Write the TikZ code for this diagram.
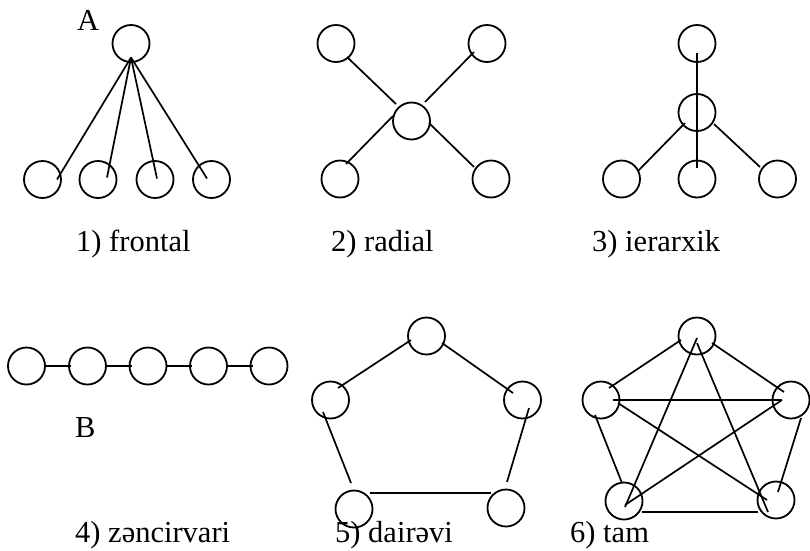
\documentclass[tikz,border=0pt]{standalone}
\usepackage{fontspec}
\setmainfont{Liberation Serif}
\usetikzlibrary{calc}
\begin{document}
\begin{tikzpicture}[x=1pt,y=-1pt,
  nd/.style={circle,draw,line width=1.8pt,minimum size=37pt,inner sep=0pt},
  ln/.style={line width=1.7pt},
  lbl/.style={font=\fontsize{30.5}{36}\selectfont,inner sep=0pt,anchor=base west}]
\useasboundingbox (0,0) rectangle (810,550);
% ---------- 1) frontal ----------
\node[nd] (f0) at (131,43.5) {};
\node[nd] (f1) at (42.5,179.5) {};
\node[nd] (f2) at (98,179.5) {};
\node[nd] (f3) at (155,179.5) {};
\node[nd] (f4) at (211.5,179.5) {};
\coordinate (fc) at ($(f0.center)+(0,14)$);
\draw[ln] (fc) -- ($(f1.center)+(14.5,0)$);
\draw[ln] (fc) -- ($(f2.center)+(9,-2)$);
\draw[ln] (fc) -- ($(f3.center)+(2,-1)$);
\draw[ln] (fc) -- ($(f4.center)+(-4.5,-1)$);
\node[lbl] (la) at (77,30) {A};
\node[lbl] (l1) at (76,251) {1) frontal};
% ---------- 2) radial ----------
\node[nd] (r0) at (411.5,121) {};
\node[nd] (r1) at (336,43.5) {};
\node[nd] (r2) at (487,43.5) {};
\node[nd] (r3) at (340,179) {};
\node[nd] (r4) at (491,179) {};
\draw[ln] ($(r1.center)+(11,13.5)$) -- ($(r0.center)+(-15.5,-17)$);
\draw[ln] ($(r2.center)+(-13,8.5)$) -- ($(r0.center)+(13.5,-19)$);
\draw[ln] ($(r3.center)+(6,-15)$) -- ($(r0.center)+(-18.5,-5)$);
\draw[ln] ($(r0.center)+(17.5,2)$) -- ($(r4.center)+(-17,-12)$);
\node[lbl] (l2) at (331,251) {2) radial};
% ---------- 3) ierarxik ----------
\node[nd] (h1) at (697,43.5) {};
\node[nd] (h2) at (697,112.5) {};
\node[nd] (h3) at (621.5,179) {};
\node[nd] (h4) at (697,179) {};
\node[nd] (h5) at (777.5,179) {};
\draw[ln] ($(h1.center)+(0,9.5)$) -- (h2.center);
\draw[ln] (h2.center) -- ($(h4.center)+(0,-11)$);
\draw[ln] ($(h2.center)+(-12,10.5)$) -- ($(h3.center)+(16.5,-8)$);
\draw[ln] ($(h2.center)+(17,11.5)$) -- ($(h5.center)+(-17.5,-12)$);
\node[lbl] (l3) at (592,251) {3) ierarxik};
% ---------- 4) zencirvari ----------
\node[nd] (c1) at (26.5,366) {};
\node[nd] (c2) at (87.5,366) {};
\node[nd] (c3) at (148,366) {};
\node[nd] (c4) at (208.5,366) {};
\node[nd] (c5) at (269,366) {};
\draw[ln] (c1.east) -- ($(c2.west)+(3,0)$);
\draw[ln] (c2.east) -- ($(c3.west)+(3,0)$);
\draw[ln] (c3.east) -- ($(c4.west)+(3,0)$);
\draw[ln] (c4.east) -- ($(c5.west)+(3,0)$);
\node[lbl] (lb) at (75,437) {B};
\node[lbl] (l4) at (75,542) {4) zəncirvari};
% ---------- 5) dairevi ----------
\node[nd] (d1) at (426.5,336) {};
\node[nd] (d2) at (330.5,400) {};
\node[nd] (d3) at (522.5,400) {};
\node[nd] (d4) at (354,509) {};
\node[nd] (d5) at (506,508) {};
\draw[ln] ($(d2.center)+(7.5,-12)$) -- ($(d1.center)+(-15.5,4)$);
\draw[ln] ($(d1.center)+(15.5,7)$) -- ($(d3.center)+(-9.5,-7)$);
\draw[ln] ($(d2.center)+(-7.5,12)$) -- ($(d4.center)+(-3,-26)$);
\draw[ln] ($(d3.center)+(6.5,8)$) -- ($(d5.center)+(1,-26)$);
\draw[ln] ($(d4.center)+(16,-16)$) -- ($(d5.center)+(-15,-15)$);
\node[lbl] (l5) at (335,542) {5) dairəvi};
% ---------- 6) tam ----------
\node[nd] (t1) at (697,336) {};
\node[nd] (t2) at (601,400) {};
\node[nd] (t3) at (791,400) {};
\node[nd] (t4) at (624,501) {};
\node[nd] (t5) at (776,500) {};
\draw[ln] ($(t2.center)+(8,-12)$) -- ($(t1.center)+(-16,4)$);
\draw[ln] ($(t1.center)+(15,7)$) -- ($(t3.center)+(-7,-8)$);
\draw[ln] ($(t2.center)+(-6,15)$) -- ($(t4.center)+(-2,-18)$);
\draw[ln] ($(t3.center)+(10,18)$) -- ($(t5.center)+(2,-8)$);
\draw[ln] ($(t4.center)+(18,11)$) -- ($(t5.center)+(-18,12)$);
\draw[ln] ($(t1.center)+(0,2)$) -- ($(t4.center)+(1,6)$);
\draw[ln] ($(t1.center)+(0,7)$) -- ($(t5.center)+(-8,12)$);
\draw[ln] ($(t2.center)+(12,0)$) -- ($(t3.center)+(-9,0)$);
\draw[ln] ($(t2.center)+(17,3)$) -- ($(t5.center)+(-9,0)$);
\draw[ln] ($(t3.center)+(-9,0)$) -- ($(t4.center)+(1,4)$);
\node[lbl] (l6) at (570,542) {6) tam};
\end{tikzpicture}
\end{document}
